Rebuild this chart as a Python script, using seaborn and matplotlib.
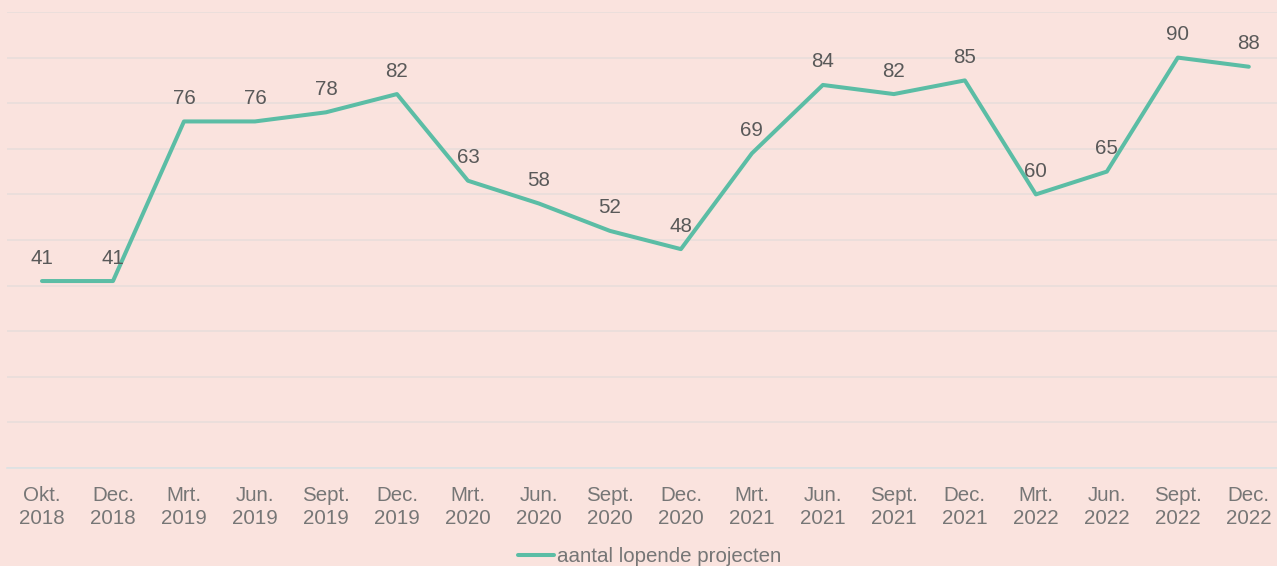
import matplotlib
matplotlib.use("Agg")
import matplotlib.pyplot as plt
import seaborn as sns
import pandas as pd

periods = ["Okt.\n2018", "Dec.\n2018", "Mrt.\n2019", "Jun.\n2019", "Sept.\n2019", "Dec.\n2019",
           "Mrt.\n2020", "Jun.\n2020", "Sept.\n2020", "Dec.\n2020", "Mrt.\n2021", "Jun.\n2021",
           "Sept.\n2021", "Dec.\n2021", "Mrt.\n2022", "Jun.\n2022", "Sept.\n2022", "Dec.\n2022"]
projects = [41, 41, 76, 76, 78, 82, 63, 58, 52, 48, 69, 84, 82, 85, 60, 65, 90, 88]

bg = "#FAE3DE"
line_color = "#5BBDA5"
fs = 14.8

sns.set_theme(style="white")
plt.rcParams["font.family"] = ["Liberation Sans", "DejaVu Sans"]

df = pd.DataFrame({"idx": range(len(periods)), "value": projects})

fig = plt.figure(figsize=(12.77, 5.66), dpi=100, facecolor=bg)
ax = fig.add_axes([6.5 / 1277, 98 / 566, 1270 / 1277, 456 / 566])
ax.set_facecolor(bg)

sns.lineplot(data=df, x="idx", y="value", ax=ax, color=line_color, linewidth=2.9,
             label="aantal lopende projecten", legend=False)

for i, v in zip(df["idx"], df["value"]):
    ax.annotate(str(v), (i, v), xytext=(0, 23), textcoords="offset pixels",
                ha="center", va="center", fontsize=fs, color="#595959")

ax.set_ylim(0, 100)
ax.set_xlim(-0.5, 17.39)
ax.set_yticks(range(0, 101, 10))
ax.yaxis.grid(True, color="#E8DEDB", linewidth=1.2)
ax.set_axisbelow(True)
ax.tick_params(axis="y", left=False, labelleft=False)
ax.set_xticks(range(len(periods)))
ax.set_xticklabels(periods, fontsize=fs, color="#767676", linespacing=1.25)
ax.tick_params(axis="x", bottom=False, pad=7)
for s in ["top", "right", "left"]:
    ax.spines[s].set_visible(False)
ax.spines["bottom"].set_color("#DCE2E4")
ax.spines["bottom"].set_linewidth(1.2)
ax.set_xlabel("")
ax.set_ylabel("")

handles, labels = ax.get_legend_handles_labels()
fig.legend(handles, labels, loc="center", bbox_to_anchor=(650 / 1277, 1 - 557 / 566),
           frameon=False, fontsize=fs, labelcolor="#767676", handlelength=1.75,
           handletextpad=0.15)

fig.savefig("out.png", dpi=100, facecolor=bg)
